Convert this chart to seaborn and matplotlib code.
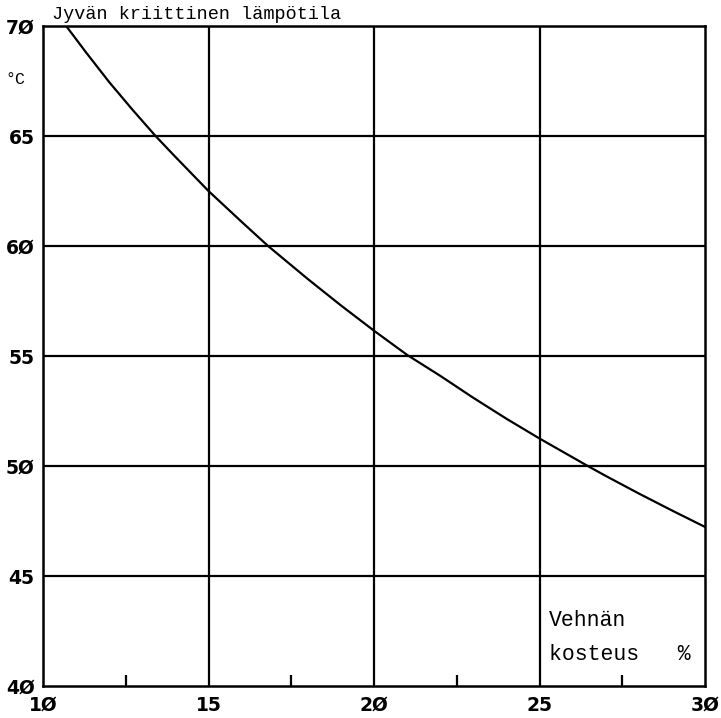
import matplotlib
matplotlib.use("Agg")
import matplotlib.pyplot as plt
import seaborn as sns
import pandas as pd

# Critical grain temperature vs. wheat moisture
moisture = [10.7, 11.3, 12.0, 12.7, 13.4, 14.0, 15.0, 16.0, 16.8, 18.0, 19.0, 20.0,
            21.0, 22.0, 23.0, 24.0, 25.0, 26.4, 27.0, 28.0, 29.0, 30.0]
temperature = [70.0, 68.8, 67.45, 66.2, 65.0, 64.05, 62.5, 61.1, 60.0, 58.5, 57.3, 56.15,
               55.05, 54.1, 53.1, 52.15, 51.25, 50.05, 49.55, 48.75, 47.98, 47.23]

x_ticks = [10, 15, 20, 25, 30]
y_ticks = [40, 45, 50, 55, 60, 65, 70]
x_minor = [12.5, 17.5, 22.5, 27.5]

title_text = "Jyvän kriittinen lämpötila"
unit_text = "°C"
xlabel_lines = ["Vehnän", "kosteus   %"]

df = pd.DataFrame({"kosteus": moisture, "lampotila": temperature})

sns.set_theme(style="white")
plt.rcParams["font.family"] = ["DejaVu Sans"]
plt.rcParams["text.color"] = "black"
plt.rcParams["xtick.color"] = "black"
plt.rcParams["ytick.color"] = "black"

fig = plt.figure(figsize=(7.21, 7.18), dpi=100)
ax = fig.add_axes([43 / 721, 1 - 686 / 718, 662 / 721, 660 / 718])

sns.lineplot(data=df, x="kosteus", y="lampotila", ax=ax, color="black",
             linewidth=1.6, sort=False, estimator=None)

ax.set_xlim(10, 30)
ax.set_ylim(40, 70)

# Grid drawn as plain black rules
for xv in x_ticks[1:-1]:
    ax.axvline(xv, color="black", linewidth=1.6, zorder=1)
for yv in y_ticks[1:-1]:
    ax.axhline(yv, color="black", linewidth=1.6, zorder=1)

for s in ax.spines.values():
    s.set_color("black")
    s.set_linewidth(1.8)

def zero_slash(v):
    return str(int(v)).replace("0", "Ø")

ax.set_xticks(x_ticks)
ax.set_xticklabels([zero_slash(v) for v in x_ticks], fontsize=13.5, fontweight="bold",
                   color="black")
ax.set_yticks(y_ticks)
ax.set_yticklabels([zero_slash(v) for v in y_ticks], fontsize=13.5, fontweight="bold",
                   color="black")
ax.set_xticks(x_minor, minor=True)
ax.tick_params(axis="x", which="major", length=0, pad=7)
ax.tick_params(axis="y", which="major", length=0, pad=6)
ax.tick_params(axis="x", which="minor", direction="in", length=8, width=1.6,
               color="black", bottom=True)
ax.set_xlabel("")
ax.set_ylabel("")
ax.grid(False)

mono = ["Liberation Mono", "DejaVu Sans Mono"]
fig.text(52 / 721, 1 - 19 / 718, title_text, family=mono, fontsize=13.3,
         ha="left", va="baseline", color="black")
fig.text(5 / 721, 1 - 80 / 718, unit_text, family=mono, fontsize=12,
         ha="left", va="center", color="black")
label_x = (549 - 43) / 662
ax.text(label_x, 1 - (620 - 26) / 660, xlabel_lines[0], transform=ax.transAxes,
        family=mono, fontsize=15.5, ha="left", va="center", color="black")
ax.text(label_x, 1 - (655 - 26) / 660, xlabel_lines[1], transform=ax.transAxes,
        family=mono, fontsize=15.5, ha="left", va="center", color="black")

fig.savefig("out.png", dpi=100)
